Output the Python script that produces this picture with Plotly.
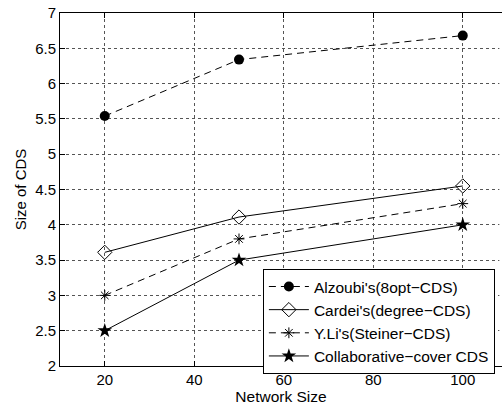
import plotly.graph_objects as go

network_size = [20, 50, 100]
alzoubi = [5.54, 6.34, 6.68]
cardei = [3.61, 4.11, 4.55]
yli = [3.0, 3.8, 4.3]
collab = [2.5, 3.5, 4.0]

names = ["Alzoubi's(8opt\u2212CDS)", "Cardei's(degree\u2212CDS)",
         "Y.Li's(Steiner\u2212CDS)", "Collaborative\u2212cover CDS"]

dash = "7px,5px"
fig = go.Figure()
fig.add_trace(go.Scatter(x=network_size, y=alzoubi, name=names[0], mode="lines+markers",
                         line=dict(color="black", width=1, dash=dash),
                         marker=dict(symbol="circle", size=10, color="black")))
fig.add_trace(go.Scatter(x=network_size, y=cardei, name=names[1], mode="lines+markers",
                         line=dict(color="black", width=1),
                         marker=dict(symbol="diamond-open", size=11, color="black", line=dict(width=1, color="black"))))
fig.add_trace(go.Scatter(x=network_size, y=yli, name=names[2], mode="lines+markers",
                         line=dict(color="black", width=1, dash=dash),
                         marker=dict(symbol="asterisk-open", size=9, color="black", line=dict(width=1, color="black"))))
fig.add_trace(go.Scatter(x=network_size, y=collab, name=names[3], mode="lines+markers",
                         line=dict(color="black", width=1),
                         marker=dict(symbol="star", size=11, color="black")))

font = "Liberation Sans, Arial, Helvetica, sans-serif"
fig.update_layout(
    width=502, height=406,
    margin=dict(l=60, r=0, t=13, b=40, pad=0),
    paper_bgcolor="white", plot_bgcolor="white",
    font=dict(family=font, size=15, color="black"),
    showlegend=True,
    legend=dict(x=0.459, y=0.275, xanchor="left", yanchor="top",
                bgcolor="white", bordercolor="black", borderwidth=1,
                font=dict(size=15.5), tracegroupgap=0, itemwidth=40),
    xaxis=dict(range=[10, 108.77], tickvals=[20, 40, 60, 80, 100],
               showline=True, linecolor="black", linewidth=1, mirror="ticks",
               ticks="inside", ticklen=5, tickcolor="black",
               showgrid=True, gridcolor="#555", griddash="dot", gridwidth=1,
               zeroline=False, tickfont=dict(size=15), automargin=False,
               title=dict(text="Network Size", standoff=2, font=dict(size=15.5))),
    yaxis=dict(range=[2, 7], tickvals=[2, 2.5, 3, 3.5, 4, 4.5, 5, 5.5, 6, 6.5, 7],
               ticktext=["2", "2.5", "3", "3.5", "4", "4.5", "5", "5.5", "6", "6.5", "7"],
               showline=True, linecolor="black", linewidth=1, mirror=False,
               ticks="inside", ticklen=5, tickcolor="black",
               showgrid=True, gridcolor="#555", griddash="dot", gridwidth=1,
               zeroline=False, tickfont=dict(size=15), automargin=False,
               title=dict(text="Size of CDS", standoff=4, font=dict(size=15))),
    shapes=[dict(type="rect", xref="paper", yref="paper", x0=0.994, x1=1.02,
                 y0=0.004, y1=0.996, fillcolor="white", line=dict(width=0),
                 layer="above")],
)
fig.write_html("out.html", config={"displayModeBar": False},
               post_script="document.body.style.margin='0';document.body.style.overflow='hidden';")
